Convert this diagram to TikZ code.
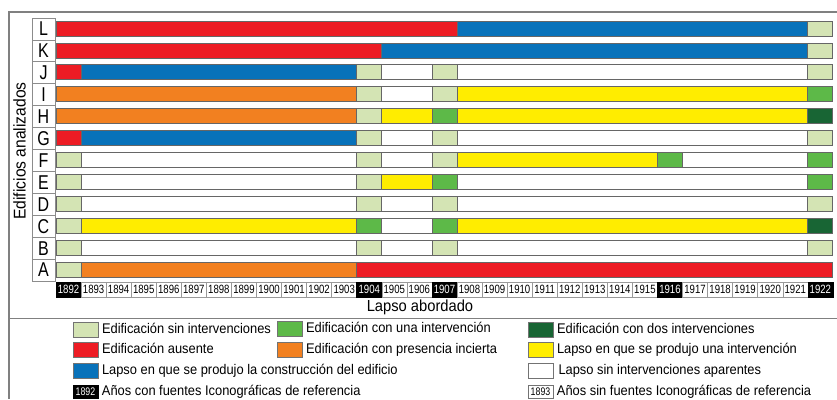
\documentclass[tikz,border=0pt]{standalone}
\usepackage{fontspec}
\setmainfont{Liberation Sans}[FakeStretch=0.92]
\newfontfamily\narrowfont{Liberation Sans}[FakeStretch=0.8]
\definecolor{cLg}{RGB}{212,228,180}
\definecolor{cGr}{RGB}{93,185,72}
\definecolor{cDg}{RGB}{24,101,52}
\definecolor{cRd}{RGB}{237,28,36}
\definecolor{cOr}{RGB}{242,128,32}
\definecolor{cBl}{RGB}{8,114,186}
\definecolor{cYe}{RGB}{255,237,0}
\definecolor{cFrame}{RGB}{128,128,128}
\tikzset{
  frameline/.style={draw=cFrame, line width=1.3pt},
  seg/.style={draw=black!60, line width=0.8pt},
  lettercell/.style={draw=black!45, line width=0.8pt},
  lettertxt/.style={font=\narrowfont\fontsize{20}{20}\selectfont, inner sep=0pt},
  yearcell/.style={draw=black!40, line width=0.5pt, fill=white, minimum width=25.06pt, minimum height=15pt, inner sep=0pt, font=\narrowfont\fontsize{12}{12}\selectfont},
  yearblack/.style={yearcell, fill=black, draw=black, text=white},
  legbox/.style={draw=black!55, line width=0.6pt, minimum width=25pt, minimum height=15pt, inner sep=0pt},
  legtxt/.style={anchor=west, inner sep=0pt, font=\fontsize{14}{16}\selectfont, text height=10pt, text depth=3pt},
  axistxt/.style={inner sep=0pt, font=\fontsize{16}{18}\selectfont},
}
\def\yw{25.06}
\def\rh{21.92}
\newcommand\chartrow[3]{%
  \pgfmathsetmacro\rt{18+#1*\rh}%
  \draw[lettercell] (32,\rt) rectangle (55,\rt+\rh);
  \node[lettertxt] (row#2) at (43.5,\rt+\rh/2) {#2};
  \foreach \a/\b/\c in {#3} {
    \draw[seg, fill=\c] ({56+\a*\yw},{\rt+3}) rectangle ({56+\b*\yw},{\rt+18});
  }
}
\begin{document}
\begin{tikzpicture}[x=1pt,y=-1pt]
\useasboundingbox (0,0) rectangle (837,399);
\fill[white] (0,0) rectangle (837,399);
% frame
\draw[frameline] (837,12) -- (9,12) -- (9,399);
\draw[frameline] (9,318.5) -- (837,318.5);
% rows
\chartrow{0}{L}{0/16/cRd, 16/30/cBl, 30/31/cLg}
\chartrow{1}{K}{0/13/cRd, 13/30/cBl, 30/31/cLg}
\chartrow{2}{J}{0/1/cRd, 1/12/cBl, 12/13/cLg, 13/15/white, 15/16/cLg, 16/30/white, 30/31/cLg}
\chartrow{3}{I}{0/12/cOr, 12/13/cLg, 13/15/white, 15/16/cLg, 16/30/cYe, 30/31/cGr}
\chartrow{4}{H}{0/12/cOr, 12/13/cLg, 13/15/cYe, 15/16/cGr, 16/30/cYe, 30/31/cDg}
\chartrow{5}{G}{0/1/cRd, 1/12/cBl, 12/13/cLg, 13/15/white, 15/16/cLg, 16/30/white, 30/31/cLg}
\chartrow{6}{F}{0/1/cLg, 1/12/white, 12/13/cLg, 13/15/white, 15/16/cLg, 16/24/cYe, 24/25/cGr, 25/30/white, 30/31/cGr}
\chartrow{7}{E}{0/1/cLg, 1/12/white, 12/13/cLg, 13/15/cYe, 15/16/cGr, 16/30/white, 30/31/cGr}
\chartrow{8}{D}{0/1/cLg, 1/12/white, 12/13/cLg, 13/15/white, 15/16/cLg, 16/30/white, 30/31/cLg}
\chartrow{9}{C}{0/1/cLg, 1/12/cYe, 12/13/cGr, 13/15/white, 15/16/cGr, 16/30/cYe, 30/31/cDg}
\chartrow{10}{B}{0/1/cLg, 1/12/white, 12/13/cLg, 13/15/white, 15/16/cLg, 16/30/white, 30/31/cLg}
\chartrow{11}{A}{0/1/cLg, 1/12/cOr, 12/31/cRd}
% years
\foreach \k in {0,...,30} {
  \pgfmathtruncatemacro\yr{1892+\k}
  \pgfmathtruncatemacro\isb{(\k==0)+(\k==12)+(\k==15)+(\k==24)+(\k==30)}
  \ifnum\isb>0 \def\yst{yearblack}\else\def\yst{yearcell}\fi
  \node[\yst] (yr\k) at ({56+(\k+0.5)*\yw},289.5) {\yr};
}
% axis titles
\node[axistxt] (xlab) at (420,307.5) {Lapso abordado};
\node[axistxt, rotate=90, font=\fontsize{17}{18}\selectfont] (ylab) at (19.5,151) {Edificios analizados};
% legend
\node[legbox, fill=cLg] (k1) at (85.5,329.5) {};
\node[legtxt] (t1) at ([xshift=3.5pt]k1.east) {Edificación sin intervenciones};
\node[legbox, fill=cRd] (k2) at (85.5,350) {};
\node[legtxt] (t2) at ([xshift=3.5pt]k2.east) {Edificación ausente};
\node[legbox, fill=cBl] (k3) at (85.5,370.5) {};
\node[legtxt] (t3) at ([xshift=3.5pt]k3.east) {Lapso en que se produjo la construcción del edificio};
\node[yearblack, minimum height=13pt, font=\narrowfont\fontsize{11}{11}\selectfont] (k4) at (85.5,392) {1892};
\node[legtxt] (t4) at ([xshift=3.5pt]k4.east) {Años con fuentes Iconográficas de referencia};
\node[legbox, fill=cGr] (k5) at (289.5,329) {};
\node[legtxt] (t5) at ([xshift=3.5pt]k5.east) {Edificación con una intervención};
\node[legbox, fill=cOr] (k6) at (289.5,349.5) {};
\node[legtxt] (t6) at ([xshift=3.5pt]k6.east) {Edificación con presencia incierta};
\node[legbox, fill=cDg] (k7) at (540.5,329.5) {};
\node[legtxt] (t7) at ([xshift=3.5pt]k7.east) {Edificación con dos intervenciones};
\node[legbox, fill=cYe] (k8) at (540.5,350) {};
\node[legtxt] (t8) at ([xshift=3.5pt]k8.east) {Lapso en que se produjo una intervención};
\node[legbox, fill=white] (k9) at (540.5,370.5) {};
\node[legtxt] (t9) at ([xshift=5pt]k9.east) {Lapso sin intervenciones aparentes};
\node[yearcell, minimum height=13pt, draw=black!55, font=\narrowfont\fontsize{11}{11}\selectfont] (k10) at (540.5,392) {1893};
\node[legtxt] (t10) at ([xshift=3.5pt]k10.east) {Años sin fuentes Iconográficas de referencia};
\end{tikzpicture}
\end{document}
